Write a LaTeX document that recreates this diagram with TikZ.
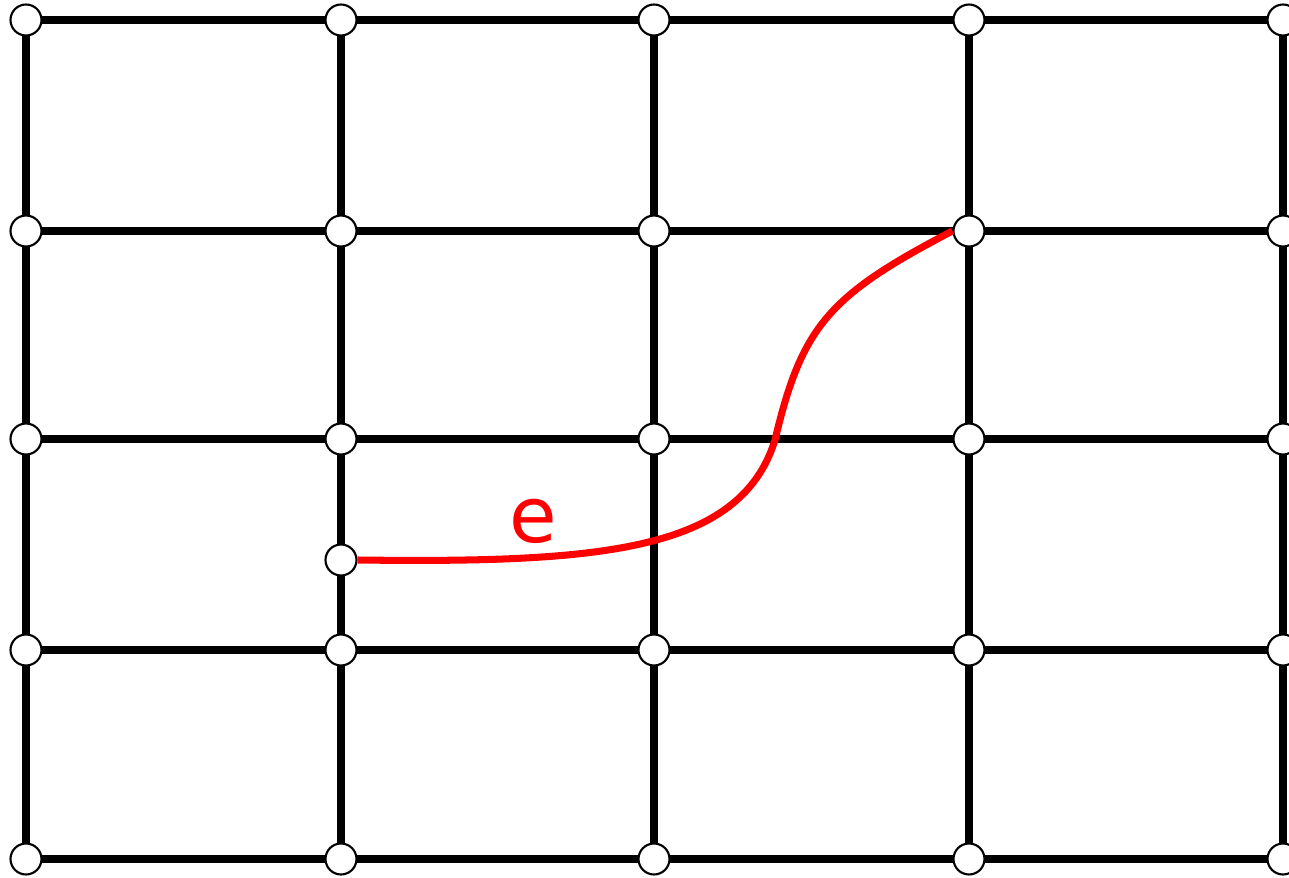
\documentclass[tikz,border=0pt]{standalone}
\usepackage{fontspec}
\setsansfont{DejaVu Sans}
\usetikzlibrary{calc}

\begin{document}
\begin{tikzpicture}[x=0.02cm, y=-0.02cm,
  vert/.style={circle,draw=black,fill=white,line width=1.2pt,inner sep=0pt,minimum size=0.62cm}]
  \useasboundingbox (0,0) rectangle (1289,878);
  % grid lines
  \foreach \x in {26,341,654,969,1283}
    \draw[line width=4pt] (\x,20) -- (\x,859);
  \foreach \y in {20,231,439,650,859}
    \draw[line width=4pt] (26,\y) -- (1283,\y);
  % grid vertices
  \foreach \x [count=\i] in {26,341,654,969,1283}
    \foreach \y [count=\j] in {20,231,439,650,859}
      \node[vert] (v\i\j) at (\x,\y) {};
  \node[vert] (s) at (341,560) {};
  \draw[red, line width=4pt] (s.east) .. controls (600,563) and (740,552) .. (775,440)
    .. controls (802,325) and (830,295) .. (v42.west);
  \node[red, font=\sffamily\fontsize{44}{44}\selectfont] (e) at (533,521) {e};
\end{tikzpicture}
\end{document}
